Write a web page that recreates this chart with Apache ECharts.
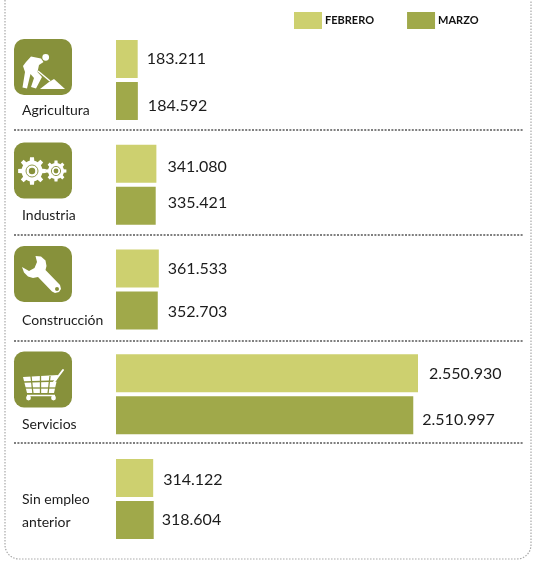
<!DOCTYPE html>
<html><head><meta charset="utf-8">
<style>html,body{margin:0;padding:0;background:#fff}#c{width:533px;height:561px}</style>
<script src="https://cdn.jsdelivr.net/npm/echarts@6/dist/echarts.min.js"></script>
</head><body><div id="c"></div>
<script>
const categories = ['Agricultura','Industria','Construcción','Servicios','Sin empleo\nanterior'];
const febrero = [183211, 341080, 361533, 2550930, 314122];
const marzo = [184592, 335421, 352703, 2510997, 318604];
const seriesNames = ['FEBRERO','MARZO'];

const FONT = 'Lato';
const OLIVE = '#87913b';
const fmt = v => String(v).replace(/\B(?=(\d{3})+(?!\d))/g, '.');
const nudgeF = [[0,0],[2,3],[0,0],[2,1],[1,2]];
const nudgeM = [[1,5],[3,-3],[1,1],[0,5],[-1,0]];

function gearPts(cx, cy, ro, ri, n) {
  const pts = [];
  const step = Math.PI * 2 / n;
  for (let i = 0; i < n; i++) {
    const a = i * step;
    [[ri, a - step * .5], [ri, a - step * .28], [ro, a - step * .18], [ro, a + step * .18], [ri, a + step * .28]]
      .forEach(q => pts.push([cx + q[0] * Math.cos(q[1]), cy + q[0] * Math.sin(q[1])]));
  }
  return pts;
}
function cornerPts(cx, cy, r, a0, a1) {
  const pts = [];
  for (let i = 0; i <= 10; i++) {
    const a = a0 + (a1 - a0) * i / 10;
    pts.push([cx + r * Math.cos(a), cy + r * Math.sin(a)]);
  }
  return pts;
}
const W = {fill:'#fff'};
const O = {fill:OLIVE};
const tile = y => ({type:'rect', shape:{x:14,y:y,width:58,height:56,r:10}, style:{fill:OLIVE}});
const sep = y => ({type:'line', shape:{x1:14,y1:y,x2:523,y2:y}, style:{stroke:'#555',lineWidth:1.4,lineDash:[2,1.4]}});
const poly = (points, style) => ({type:'polygon', shape:{points}, style});

const border = [[5,0]].concat(
  cornerPts(19,545,14,Math.PI,Math.PI/2),
  cornerPts(517,545,14,Math.PI/2,0),
  [[531,0]]
);

const graphics = [
  {type:'polyline', shape:{points:border}, style:{fill:null,stroke:'#a8a8a8',lineWidth:1.2,lineDash:[1.5,1.5]}},
  sep(130), sep(235), sep(341), sep(443),
  tile(39), tile(142.5), tile(246), tile(351.5),
  // worker
  {type:'circle', shape:{cx:45.7,cy:57.3,r:3.4}, style:W},
  poly([[26,62],[31,56.5],[41,58.5],[43.5,62],[39,65],[37.5,72],[42,77],[36,88.5],[31,87],[34,78],[30.5,74],[27,88.5],[22.5,87.5],[25,72],[23,66]], W),
  {type:'line', shape:{x1:38,y1:71,x2:50,y2:81}, style:{stroke:'#fff',lineWidth:1.5}},
  poly([[40,89],[65,89],[54,79],[49,82]], W),
  // gears
  poly(gearPts(32,171,14,10.5,8), W),
  {type:'circle', shape:{cx:32,cy:171,r:6}, style:{fill:null,stroke:OLIVE,lineWidth:0.9}},
  {type:'circle', shape:{cx:32,cy:171,r:3.2}, style:O},
  poly(gearPts(56,171,10.5,8,8), W),
  {type:'circle', shape:{cx:56,cy:171,r:4.6}, style:{fill:null,stroke:OLIVE,lineWidth:0.9}},
  {type:'circle', shape:{cx:56,cy:171,r:2.4}, style:O},
  // wrench
  poly([[35.5,256],[41,256.5],[45.5,260.5],[46.5,266],[45.5,270],[60,285],[61,289],[59,292],[55,293],[52,291.5],[38,277],[33,278],[28,276.5],[24,272.5],[22,267],[29,271],[34.5,268],[37,262]], W),
  {type:'circle', shape:{cx:57,cy:289,r:2}, style:O},
  // cart
  poly([[23,377],[58,375],[54,393],[27,393]], W),
  {type:'line', shape:{x1:31,y1:376,x2:33,y2:394}, style:{stroke:OLIVE,lineWidth:1.3}},
  {type:'line', shape:{x1:40.5,y1:376,x2:40.5,y2:394}, style:{stroke:OLIVE,lineWidth:1.3}},
  {type:'line', shape:{x1:50,y1:376,x2:48,y2:394}, style:{stroke:OLIVE,lineWidth:1.3}},
  {type:'line', shape:{x1:24,y1:382,x2:57,y2:381}, style:{stroke:OLIVE,lineWidth:1.3}},
  {type:'line', shape:{x1:25,y1:388,x2:56,y2:388}, style:{stroke:OLIVE,lineWidth:1.3}},
  {type:'line', shape:{x1:54,y1:382,x2:63,y2:370}, style:{stroke:'#fff',lineWidth:2,lineCap:'round'}},
  {type:'line', shape:{x1:27,y1:395.5,x2:55,y2:395.5}, style:{stroke:'#fff',lineWidth:1.5}},
  {type:'circle', shape:{cx:28.5,cy:398,r:2.4}, style:W},
  {type:'circle', shape:{cx:53.5,cy:398,r:2.4}, style:W}
];

function series(name, values, color, nudges) {
  return {
    name, type:'bar', data: values.map((v,i) => ({
      value:v,
      label:{offset:nudges[i]}
    })),
    barWidth:38, barGap:'10.5%',
    itemStyle:{color},
    label:{show:true, position:'right', distance:9, formatter:p => fmt(p.value),
      fontFamily:FONT, fontSize:16, color:'#1c1c1c'}
  };
}

const chart = echarts.init(document.getElementById('c'), null, {renderer:'canvas'});
chart.setOption({
  animation:false,
  backgroundColor:'#fff',
  legend:{
    left:294, top:12, padding:0, itemWidth:28, itemHeight:17, itemGap:33, icon:'rect',
    data:seriesNames,
    textStyle:{fontFamily:FONT, fontWeight:'bold', fontSize:11, color:'#111', padding:[0,0,0,-2]}
  },
  grid:{left:116, top:27.6, width:302, height:523.8},
  xAxis:{type:'value', min:0, max:2550930, show:false},
  yAxis:{type:'category', inverse:true, data:categories,
    axisLine:{show:false}, axisTick:{show:false}, splitLine:{show:false},
    axisLabel:{
      margin:94, align:'left', fontFamily:FONT, fontSize:14, color:'#1c1c1c',
      formatter:v => {
        const parts = v.split('\n');
        return parts.length > 1
          ? '{s1|' + parts[0] + '}\n{s2|' + parts[1] + '}'
          : '{a|' + v + '}';
      },
      rich:{
        a:{fontFamily:FONT,fontSize:14,color:'#1c1c1c',padding:[61,0,0,0]},
        s1:{fontFamily:FONT,fontSize:14,color:'#1c1c1c',height:17,padding:[23,0,0,0]},
        s2:{fontFamily:FONT,fontSize:14,color:'#1c1c1c',height:17,padding:[6,0,0,0]}
      }
    }
  },
  series:[
    series(seriesNames[0], febrero, '#cdd06f', nudgeF),
    series(seriesNames[1], marzo, '#a0a94a', nudgeM)
  ],
  graphic:graphics
});
</script></body></html>
